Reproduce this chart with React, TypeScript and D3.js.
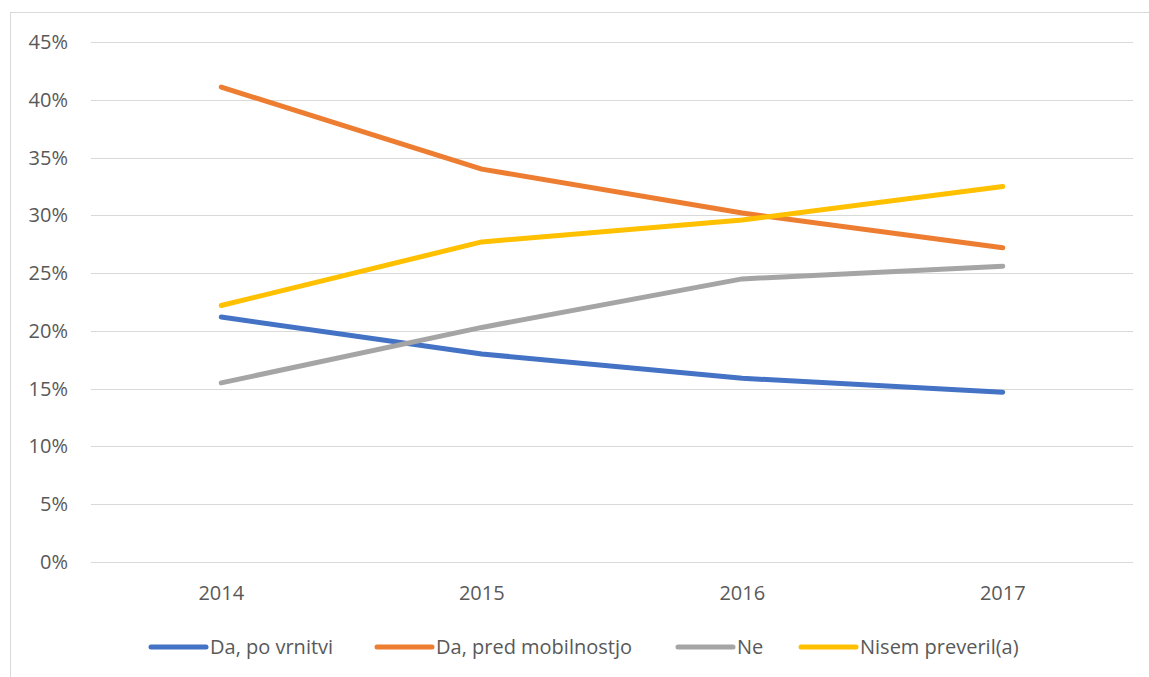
import React from "react";
import * as d3 from "d3";

const categories = ["2014", "2015", "2016", "2017"];
const seriesNames = ["Da, po vrnitvi", "Da, pred mobilnostjo", "Ne", "Nisem preveril(a)"];
const daPoVrnitvi = [0.212, 0.180, 0.159, 0.147];
const daPredMobilnostjo = [0.411, 0.340, 0.302, 0.272];
const ne = [0.155, 0.203, 0.245, 0.256];
const nisemPreveril = [0.222, 0.277, 0.296, 0.325];
const yTicks = [0, 0.05, 0.1, 0.15, 0.2, 0.25, 0.3, 0.35, 0.4, 0.45];
const colors = ["#4472C4", "#ED7D31", "#A5A5A5", "#FFC000"];

const W = 1149;
const H = 677;

export default function App() {
  const x = d3.scaleBand<string>().domain(categories).range([91, 1133]);
  const y = d3.scaleLinear().domain([0, 0.45]).range([562, 42]);
  const all = [daPoVrnitvi, daPredMobilnostjo, ne, nisemPreveril];
  const line = d3
    .line<number>()
    .x((_, i) => (x(categories[i]) as number) + x.bandwidth() / 2)
    .y((d) => y(d));
  const fmt = d3.format(".0%");
  const font = "'Open Sans', 'Noto Sans', sans-serif";
  const legendX = [151, 377, 678, 801];
  return (
    <svg
      width={W}
      height={H}
      style={{ position: "absolute", left: 0, top: 0 }}
      fontFamily={font}
    >
      <rect x={0} y={0} width={W} height={H} fill="#fff" />
      <rect x={10.5} y={12.5} width={W + 20} height={H + 20} fill="none" stroke="#D9D9D9" strokeWidth={1} />
      {yTicks.map((t) => (
        <g key={t}>
          <line x1={91} x2={1133} y1={Math.round(y(t)) + 0.5} y2={Math.round(y(t)) + 0.5} stroke="#D9D9D9" strokeWidth={1} />
          <text x={68} y={y(t)} dy="0.35em" textAnchor="end" fontSize={20} fill="#595959">
            {fmt(t)}
          </text>
        </g>
      ))}
      {categories.map((c) => (
        <text
          key={c}
          x={(x(c) as number) + x.bandwidth() / 2}
          y={593}
          dy="0.35em"
          textAnchor="middle"
          fontSize={20}
          fill="#595959"
        >
          {c}
        </text>
      ))}
      {all.map((s, i) => (
        <path
          key={i}
          d={line(s) || ""}
          fill="none"
          stroke={colors[i]}
          strokeWidth={5}
          strokeLinecap="round"
          strokeLinejoin="round"
        />
      ))}
      {seriesNames.map((n, i) => (
        <g key={n}>
          <line x1={legendX[i]} x2={legendX[i] + 55} y1={647} y2={647} stroke={colors[i]} strokeWidth={5} strokeLinecap="round" />
          <text x={legendX[i] + 59} y={647} dy="0.35em" fontSize={20} fill="#595959">
            {n}
          </text>
        </g>
      ))}
    </svg>
  );
}
